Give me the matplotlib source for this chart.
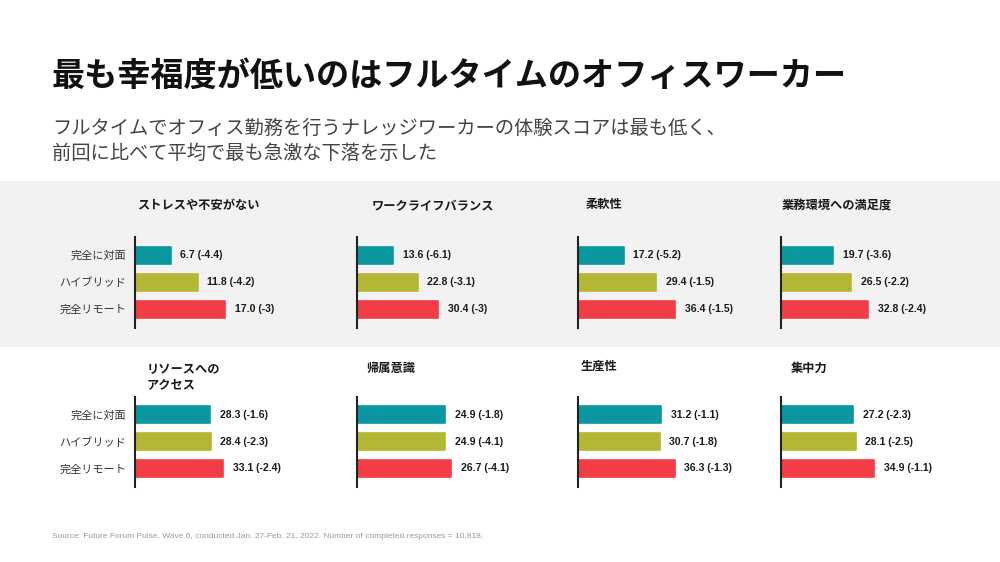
import matplotlib
matplotlib.use("Agg")
import matplotlib.pyplot as plt

plt.rcParams['font.family'] = ['Noto Sans CJK JP', 'DejaVu Sans']

title = "最も幸福度が低いのはフルタイムのオフィスワーカー"
subtitle = ["フルタイムでオフィス勤務を行うナレッジワーカーの体験スコアは最も低く、",
            "前回に比べて平均で最も急激な下落を示した"]
source = ("Source: Future Forum Pulse, Wave 6, conducted Jan. 27-Feb. 21, 2022. "
          "Number of completed responses = 10,818.")

groups = ["完全に対面", "ハイブリッド", "完全リモート"]
panel_titles = ["ストレスや不安がない", "ワークライフバランス", "柔軟性", "業務環境への満足度",
                "リソースへの\nアクセス", "帰属意識", "生産性", "集中力"]
scores = [
    [6.7, 11.8, 17.0],
    [13.6, 22.8, 30.4],
    [17.2, 29.4, 36.4],
    [19.7, 26.5, 32.8],
    [28.3, 28.4, 33.1],
    [24.9, 24.9, 26.7],
    [31.2, 30.7, 36.3],
    [27.2, 28.1, 34.9],
]
changes = [
    [-4.4, -4.2, -3],
    [-6.1, -3.1, -3],
    [-5.2, -1.5, -1.5],
    [-3.6, -2.2, -2.4],
    [-1.6, -2.3, -2.4],
    [-1.8, -4.1, -4.1],
    [-1.1, -1.8, -1.3],
    [-2.3, -2.5, -1.1],
]
# each panel in the source uses its own x scale
x_max = [37.7, 75.2, 75.2, 75.2, 75.2, 56.7, 75.2, 75.2]

colors = ["#0A97A0", "#B3B834", "#F23D47"]

W, H = 1000, 562
fig = plt.figure(figsize=(10, 5.62), dpi=100)
fig.patch.set_facecolor("white")

def fx(px):
    return px / W

def fy(py):
    return 1 - py / H

# grey band behind top row
band = plt.Rectangle((0, fy(347)), 1, (347 - 181) / H, transform=fig.transFigure,
                     facecolor="#F2F2F2", edgecolor="none", zorder=-10)
fig.patches.append(band)

fig.text(fx(52), fy(76), title, fontsize=23.9, fontweight="bold", color="#111111",
         va="center", ha="left")
fig.text(fx(52), fy(128), subtitle[0], fontsize=13.9, color="#444444", va="center")
fig.text(fx(52), fy(153), subtitle[1], fontsize=13.9, color="#444444", va="center")
fig.text(fx(52), fy(537), source, fontsize=6.05, color="#999999", va="center",
         family=["Liberation Sans"])

axis_x = [135, 357, 578, 781]
row_top = [237, 397]
row_bot = [328, 487]
title_pos = [(137, 206), (372, 207), (586, 204), (782, 205),
             (147, 377), (366, 368), (581, 366), (791, 368)]
ax_w = 200

for i in range(8):
    r, c = divmod(i, 4)
    x0 = axis_x[c]
    top, bot = row_top[r], row_bot[r]
    ax = fig.add_axes([fx(x0), fy(bot), ax_w / W, (bot - top) / H])
    ax.set_facecolor("none")
    ypos = list(range(len(groups)))
    ax.barh(ypos, scores[i], height=0.63, color=colors, edgecolor=colors,
            linewidth=1.2, joinstyle="round")
    ax.set_xlim(0, x_max[i])
    ax.set_ylim(2.70, -0.67)
    for j, (v, d) in enumerate(zip(scores[i], changes[i])):
        ax.annotate(f"{v:.1f} ({d:g})", (v, j), xytext=(7, 0), textcoords="offset points",
                    va="center", ha="left", fontsize=7.6, fontweight="bold",
                    color="#1a1a1a", family=["Liberation Sans"])
    for s in ["top", "right", "bottom"]:
        ax.spines[s].set_visible(False)
    ax.spines["left"].set_color("#222222")
    ax.spines["left"].set_linewidth(1.5)
    ax.set_xticks([])
    if c == 0:
        ax.set_yticks(ypos)
        ax.set_yticklabels(groups, fontsize=8, color="#333333")
        ax.tick_params(axis="y", length=0, pad=6.5)
    else:
        ax.set_yticks([])
    tx, ty = title_pos[i]
    fig.text(fx(tx), fy(ty), panel_titles[i], fontsize=8.8, fontweight="bold",
             color="#1a1a1a", va="center", ha="left", linespacing=1.25)

fig.savefig("out.png", dpi=100)
